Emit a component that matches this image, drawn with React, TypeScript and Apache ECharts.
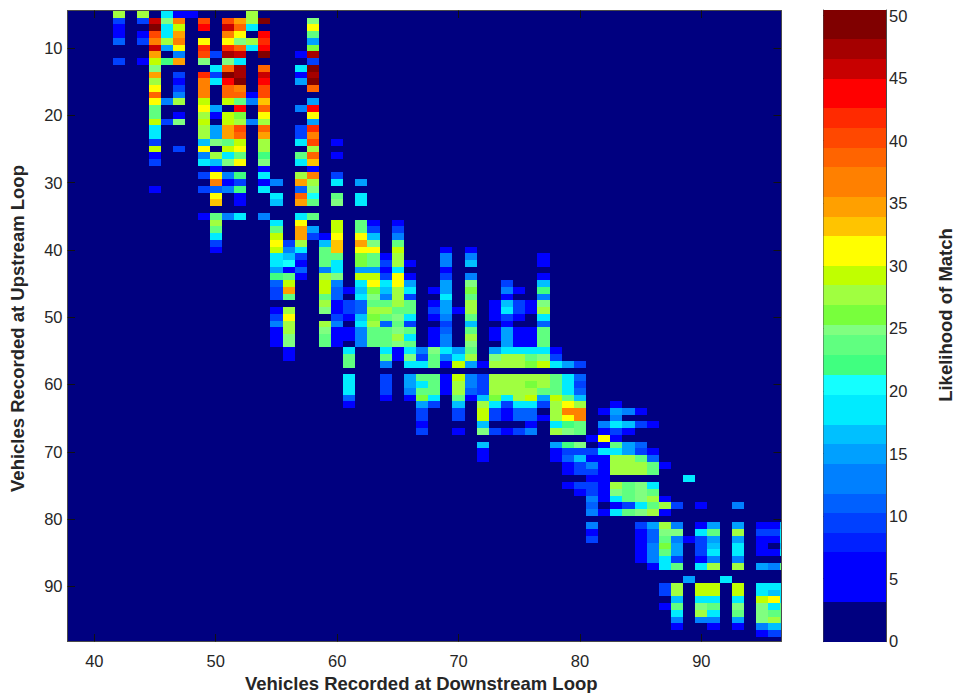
import React, { useEffect, useRef } from "react";
import * as echarts from "echarts";

// Sparse heat-map values: each column lists runs of [firstRow, value, value, ...]; 0 = background
const c42 = [[5, 28, 9, 6, 6, 11], [12, 9]];
const c44 = [[5, 28, 9, 0, 5, 9], [12, 6]];
const c45 = [[6, 46, 50, 41, 37, 46, 35, 29, 25, 35, 28, 31, 38, 31, 24, 23, 29, 19, 19, 9, 29, 6, 9], [31, 7]];
const c46 = [[5, 19, 25, 19, 19, 27, 15, 0, 22], [18, 13], [21, 10]];
const c47 = [[5, 5, 36, 29, 34, 36, 31, 13, 35, 0, 9, 5, 9, 14, 27, 0, 5, 25], [25, 10]];
const c48 = [[5, 5]];
const c49 = [[6, 40, 43, 0, 31, 42, 40, 25, 0, 42, 36, 36, 36, 29, 31, 27, 29, 27, 28, 16, 31, 13, 18], [29, 9, 0, 10], [35, 5]];
const c50 = [[11, 9, 0, 18, 9, 19], [19, 15, 6], [22, 15, 15, 25, 0, 28, 17, 5, 31, 36, 11, 31, 33], [35, 23, 27, 24, 19, 10, 5]];
const c51 = [[6, 40, 46, 37, 31, 42, 47, 25, 39, 49, 43, 38, 38, 29, 0, 29, 29, 34, 35, 24, 29, 19, 25, 0, 14, 5, 14], [35, 12]];
const c52 = [[6, 35, 38, 31, 25, 38, 46, 19, 48, 48, 50, 36, 38, 24, 43, 26, 27, 40, 38, 30, 31, 24, 31, 0, 22, 10, 22, 5, 5], [35, 19]];
const c53 = [[5, 27, 27, 19, 0, 27, 19], [17, 5, 14, 0, 0, 12]];
const c54 = [[6, 49, 0, 43, 42, 43, 49, 0, 39, 46, 43, 41, 40, 33, 39, 31, 27, 38, 34, 27, 27, 22, 25, 5, 18, 5, 19], [35, 12]];
const c55 = [[30, 12, 0, 19, 16], [36, 19, 23, 29, 31, 29, 19, 19, 15, 22, 11, 10, 10, 0, 5, 9, 13, 5, 5, 5]];
const c56 = [[39, 9, 14, 16, 20, 6, 23, 29, 34, 23, 0, 27, 31, 27, 27, 25, 25, 5, 5]];
const c57 = [[11, 5, 0, 18, 6, 15], [19, 12], [22, 10, 10, 19, 0, 24, 19, 0, 27, 35, 11, 38, 34, 0, 19, 31, 34, 34, 28, 19, 9, 5, 11, 7]];
const c58 = [[6, 25, 31, 23, 15, 26, 47, 10, 50, 47, 49, 39, 0, 15, 43, 31, 15, 42, 37, 40, 27, 38, 33, 5, 37, 27, 25, 20, 23, 0, 24, 0, 15, 9]];
const c59 = [[38, 5, 16, 23, 23, 24, 13, 27, 29, 29, 23, 28, 25, 0, 27, 25, 23, 23]];
const c60 = [[24, 5, 0, 5, 0, 0, 9, 19, 0, 24, 25], [36, 29, 29, 31, 33, 33, 23, 18, 19, 25, 14, 11, 11, 6, 5, 9, 14, 5, 5, 5]];
const c61 = [[46, 5, 0, 9, 9, 5, 0, 5, 5, 0, 19, 24, 24, 0, 19, 19, 19, 11, 5]];
const c62 = [[30, 15, 0, 19, 19, 0, 0, 23, 23, 31, 34, 31, 26, 26, 15, 29, 19, 16, 19, 11, 11, 16, 19, 13, 13, 13]];
const c63 = [[36, 5, 9, 16, 25, 31, 24, 24, 15, 29, 31, 26, 25, 24, 27, 26, 27, 23, 23, 23]];
const c64 = [[41, 5, 9, 5, 9, 19, 16, 14, 23, 27, 23, 11, 23, 24, 24, 19, 23, 12, 0, 9, 9, 9, 5]];
const c65 = [[36, 5, 9, 12, 24, 29, 27, 28, 18, 31, 31, 28, 27, 27, 24, 25, 24, 25, 27, 25, 5, 5]];
const c66 = [[42, 5, 0, 5, 15, 18, 9, 23, 24, 19, 9, 23, 19, 23, 19, 25, 19, 0, 15, 15, 13, 5]];
const c67 = [[55, 13, 9, 19, 0, 24, 19, 23, 26, 15, 9, 9, 5, 9]];
const c68 = [[46, 5, 0, 5, 9, 5, 0, 5, 5, 5, 25, 24, 24, 0, 23, 23, 23, 19, 9]];
const c69 = [[40, 5, 13, 13, 5, 9, 15, 15, 19, 15, 15, 13, 9, 11, 14, 14, 18, 12, 5, 0, 5, 5, 5]];
const c70 = [[49, 5], [55, 15, 19, 29, 0, 29, 28, 27, 23, 16, 9, 9, 0, 6]];
const c71 = [[40, 5, 13, 17, 0, 13, 25, 26, 23, 28, 28, 23, 16, 24, 27, 25, 24, 27, 15, 0, 13, 13, 11, 5]];
const c72 = [[57, 5, 0, 9, 9, 9, 16, 28, 29, 29, 16, 25, 0, 16, 5, 5]];
const c73 = [[48, 5, 5, 5, 0, 5, 5, 0, 15, 25, 27, 0, 28, 27, 27, 26, 19, 9, 9, 0, 9]];
const c74 = [[45, 9, 12, 5, 16, 19, 9, 5, 15, 15, 15, 19, 27, 27, 0, 27, 27, 27, 18, 9, 5, 5, 0, 5]];
const c75 = [[46, 5, 0, 9, 9, 5, 0, 5, 5, 5, 19, 27, 28, 0, 28, 28, 27, 27, 19, 11, 11, 0, 9]];
const c76 = [[48, 5, 5, 0, 0, 5, 5, 5, 19, 24, 26, 0, 27, 26, 27, 29, 18, 11, 11, 5, 13]];
const c77 = [[41, 5, 5, 0, 5, 16, 22, 13, 25, 27, 19, 11, 24, 23, 23, 19, 25, 29, 0, 27, 27, 23, 15, 9, 0, 5]];
const c78 = [[55, 5, 9, 19, 0, 23, 23, 23, 29, 27, 27, 27, 19, 27, 0, 15, 5, 5]];
const c79 = [[57, 15, 0, 19, 19, 19, 24, 31, 36, 31, 22, 25, 0, 22, 9, 11, 5, 5, 0, 5]];
const c80 = [[57, 9, 0, 11, 10, 11, 16, 28, 36, 36, 23, 24, 0, 25, 9, 16, 9, 9, 0, 9, 5]];
const c81 = [[68, 5, 0, 9, 5, 13, 9, 5, 9, 9, 13, 11, 13, 0, 13, 5, 9]];
const c82 = [[64, 5, 0, 13, 5, 32, 5, 19, 5, 5, 5, 5, 5, 5, 5, 0, 5]];
const c83 = [[63, 5, 15, 13, 19, 9, 5, 23, 19, 28, 28, 28, 0, 28, 25, 19, 5, 19]];
const c84 = [[64, 13, 0, 16, 5, 0, 15, 15, 28, 27, 27, 0, 24, 23, 23, 9, 23]];
const c85 = [[64, 5, 0, 9, 0, 0, 11, 9, 24, 28, 28, 0, 25, 25, 25, 19, 25, 0, 9, 5, 5, 5, 5, 5]];
const c86 = [[66, 5, 0, 0, 0, 5, 11, 23, 23, 0, 19, 23, 27, 24, 27, 0, 15, 11, 11, 13, 12, 13, 5]];
const c87 = [[72, 5], [77, 5, 27, 5, 0, 27, 25, 23, 26, 24, 19, 19], [90, 10, 9], [93, 5]];
const c88 = [[78, 9], [81, 13, 25, 13, 15, 15, 9, 24], [90, 28, 27, 16, 24, 19, 14, 5]];
const c89 = [[74, 18], [83, 5], [89, 15]];
const c90 = [[78, 5], [81, 5, 19, 10, 10, 10, 5, 19], [90, 29, 29, 18, 25, 27, 14]];
const c91 = [[81, 15, 24, 15, 16, 19, 12, 27], [90, 29, 29, 19, 24, 19, 14, 5]];
const c92 = [[89, 18]];
const c93 = [[78, 13], [81, 15, 27, 15, 18, 19, 12, 27], [90, 29, 29, 19, 25, 23, 15, 5]];
const c95 = [[81, 5, 9, 5, 5, 5, 0, 15], [90, 19, 19, 29, 25, 25, 25, 14, 5]];
const c96 = [[81, 5, 9, 5, 0, 5, 0, 14], [90, 18, 16, 31, 19, 23, 28, 16, 9]];
const c97 = [[81, 16, 19, 19, 16, 19, 0, 24], [90, 19, 19, 19, 24, 24, 23, 16, 9]];

const columns: [number, number[][]][] = [
  [42, c42], [44, c44], [45, c45], [46, c46], [47, c47], [48, c48], [49, c49], [50, c50], [51, c51], [52, c52],
  [53, c53], [54, c54], [55, c55], [56, c56], [57, c57], [58, c58], [59, c59], [60, c60], [61, c61], [62, c62],
  [63, c63], [64, c64], [65, c65], [66, c66], [67, c67], [68, c68], [69, c69], [70, c70], [71, c71], [72, c72],
  [73, c73], [74, c74], [75, c75], [76, c76], [77, c77], [78, c78], [79, c79], [80, c80], [81, c81], [82, c82],
  [83, c83], [84, c84], [85, c85], [86, c86], [87, c87], [88, c88], [89, c89], [90, c90], [91, c91], [92, c92],
  [93, c93], [95, c95], [96, c96], [97, c97],
];

// Colour bar: the upper limit of each colour band, and its colour
const bandTops = [3.13, 7.13, 8.65, 10.25, 11.77, 14.16, 15.76, 17.28, 19.68, 21.28, 22.88, 24.48, 25.28, 26.88,
  28.48, 30.02, 32.39, 33.93, 35.53, 37.91, 39.45, 41.03, 42.6, 44.94, 46.54, 48.14, 50.45];
const bandColors = ["#000080", "#0000ff", "#0020ff", "#0040ff", "#0060ff", "#0080ff", "#00a0ff", "#00c0ff", "#00ebff",
  "#14ffff", "#40ff80", "#60ff80", "#80ff80", "#78ff3c", "#a0ff40", "#c0ff00", "#ffff00", "#ffc400", "#ffa000",
  "#ff8000", "#ff6400", "#ff4800", "#ff2a00", "#ff0000", "#c80000", "#a50000", "#800000"];

const xTicks = [40, 50, 60, 70, 80, 90];
const yTicks = [10, 20, 30, 40, 50, 60, 70, 80, 90];
const barTicks = [0, 5, 10, 15, 20, 25, 30, 35, 40, 45, 50];

const X_NAME = "Vehicles Recorded at Downstream Loop";
const Y_NAME = "Vehicles Recorded at Upstream Loop";
const BAR_NAME = "Likelihood of Match";

const FONT = "'Liberation Sans', Arial, sans-serif";
const INK = "#262626";

function colourOf(v: number) {
  for (let i = 0; i < bandTops.length; i++) if (v <= bandTops[i]) return bandColors[i];
  return bandColors[bandColors.length - 1];
}

function cells() {
  const out: number[][] = [];
  for (const [col, runs] of columns) {
    for (const run of runs) {
      for (let i = 1; i < run.length; i++) {
        if (run[i] > 0) out.push([col, run[0] + i - 1, run[i]]);
      }
    }
  }
  return out;
}

function renderCell(params: any, api: any) {
  const x = api.value(0);
  const y = api.value(1);
  const a = api.coord([x - 0.5, y - 0.5]);
  const b = api.coord([x + 0.5, y + 0.5]);
  const x0 = Math.round(a[0]);
  const y0 = Math.round(a[1]);
  const rect = echarts.graphic.clipRectByRect(
    { x: x0, y: y0, width: Math.round(b[0]) - x0, height: Math.round(b[1]) - y0 },
    params.coordSys
  );
  if (!rect) return null;
  return { type: "rect", shape: rect, style: { fill: colourOf(api.value(2)) } };
}

function renderBand(params: any, api: any) {
  const a = api.coord([0, api.value(1)]);
  const b = api.coord([1, api.value(0)]);
  const y0 = Math.round(a[1]);
  return {
    type: "rect",
    shape: { x: a[0], y: y0, width: b[0] - a[0], height: Math.round(b[1]) - y0 },
    style: { fill: bandColors[api.value(2)] },
  };
}

const line = { show: true, onZero: false, lineStyle: { color: "#4a4a4a", width: 1 } };
const tick = (values: number[], length: number) => ({
  show: true,
  inside: true,
  length,
  customValues: values,
  lineStyle: { color: "#111", width: 1 },
});
const label = (values: number[], margin: number) => ({
  show: true,
  customValues: values,
  margin,
  color: INK,
  fontFamily: FONT,
  fontSize: 16.5,
  hideOverlap: false,
  showMinLabel: true,
  showMaxLabel: true,
});
const none = { show: false };

export default function App() {
  const ref = useRef<HTMLDivElement>(null);
  useEffect(() => {
    const chart = echarts.init(ref.current!, undefined, { renderer: "svg" });
    const xRange = { min: 37.79, max: 96.56 };
    const yRange = { min: 4.43, max: 98.19, inverse: true };
    const barRange = { min: -0.04, max: 50.45 };
    const bandData = bandTops.map((top, i) => [i === 0 ? barRange.min : bandTops[i - 1], top, i]);
    chart.setOption({
      animation: false,
      backgroundColor: "#ffffff",
      grid: [
        { left: 67.5, top: 10.5, width: 713.5, height: 631, show: true, backgroundColor: "#000080", borderWidth: 0, containLabel: false, outerBoundsMode: "none" },
        { left: 823.5, top: 10, width: 62.5, height: 631.7, containLabel: false, outerBoundsMode: "none" },
      ],
      xAxis: [
        {
          type: "value", gridIndex: 0, position: "bottom", ...xRange,
          axisLine: line, axisTick: tick(xTicks, 7.5), axisLabel: label(xTicks, 11), splitLine: none,
          name: X_NAME, nameLocation: "middle", nameGap: 31,
          nameTextStyle: { fontFamily: FONT, fontWeight: "bold", fontSize: 18.5, color: INK, padding: [0, 6, 0, 0] },
        },
        {
          type: "value", gridIndex: 0, position: "top", ...xRange,
          axisLine: line, axisTick: tick(xTicks, 7.5), axisLabel: none, splitLine: none,
        },
        {
          type: "value", gridIndex: 1, position: "bottom", min: 0, max: 1,
          axisLine: line, axisTick: none, axisLabel: none, splitLine: none,
        },
        {
          type: "value", gridIndex: 1, position: "top", min: 0, max: 1,
          axisLine: line, axisTick: none, axisLabel: none, splitLine: none,
        },
      ],
      yAxis: [
        {
          type: "value", gridIndex: 0, position: "left", ...yRange,
          axisLine: line, axisTick: tick(yTicks, 7.5), axisLabel: label(yTicks, 5), splitLine: none,
          name: Y_NAME, nameLocation: "middle", nameGap: 41,
          nameTextStyle: { fontFamily: FONT, fontWeight: "bold", fontSize: 18.5, color: INK, padding: [0, 5, 0, 0] },
        },
        {
          type: "value", gridIndex: 0, position: "right", ...yRange,
          axisLine: line, axisTick: tick(yTicks, 7.5), axisLabel: none, splitLine: none,
        },
        {
          type: "value", gridIndex: 1, position: "right", ...barRange,
          axisLine: line, axisTick: tick(barTicks, 6.5), axisLabel: label(barTicks, 3), splitLine: none,
        },
        {
          type: "value", gridIndex: 1, position: "left", ...barRange,
          axisLine: line, axisTick: tick(barTicks, 6.5), axisLabel: none, splitLine: none,
        },
      ],
      series: [
        {
          type: "custom", name: "Likelihood of Match", coordinateSystem: "cartesian2d",
          xAxisIndex: 0, yAxisIndex: 0, data: cells(), renderItem: renderCell, silent: true, z: 1,
        },
        {
          type: "custom", name: "Colour bar", coordinateSystem: "cartesian2d",
          xAxisIndex: 2, yAxisIndex: 2, data: bandData, renderItem: renderBand, silent: true, z: 1,
        },
      ],
      graphic: [
        {
          type: "text", x: 945, y: 315, rotation: Math.PI / 2, originX: 0, originY: 0,
          style: {
            text: BAR_NAME, fontFamily: FONT, fontWeight: "bold", fontSize: 18.5, fill: INK,
            textAlign: "center", textVerticalAlign: "middle",
          },
        },
      ],
    });
    return () => chart.dispose();
  }, []);
  return <div ref={ref} style={{ position: "absolute", left: 0, top: 0, width: 955, height: 693 }} />;
}
